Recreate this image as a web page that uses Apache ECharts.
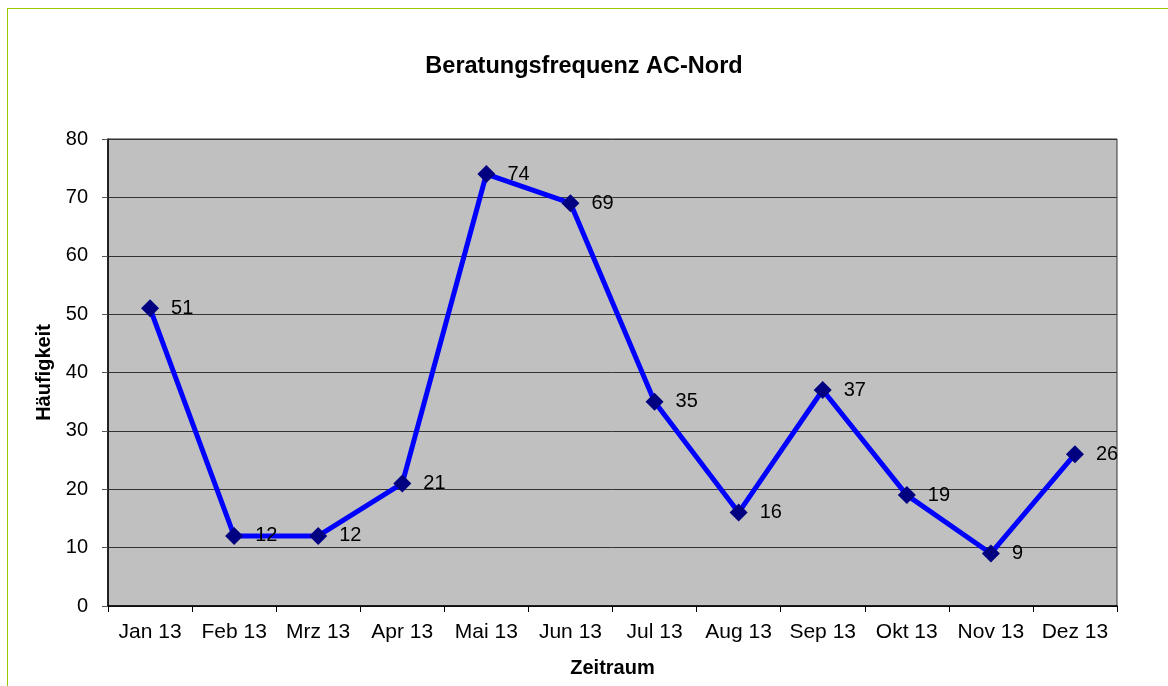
<!DOCTYPE html>
<html>
<head>
<meta charset="utf-8">
<script src="https://cdn.jsdelivr.net/npm/echarts@6/dist/echarts.min.js"></script>
<style>
html,body{margin:0;padding:0;background:#fff;}
#frame{position:absolute;left:7px;top:8px;width:1161px;height:678px;border-left:1px solid #99cc00;border-top:1px solid #99cc00;}
#chart{position:absolute;left:0;top:0;width:1168px;height:686px;}
</style>
</head>
<body>
<div id="frame"></div>
<div id="chart"></div>
<script>
var titleText = 'Beratungsfrequenz AC-Nord';
var categories = ['Jan 13','Feb 13','Mrz 13','Apr 13','Mai 13','Jun 13','Jul 13','Aug 13','Sep 13','Okt 13','Nov 13','Dez 13'];
var values = [51,12,12,21,74,69,35,16,37,19,9,26];
var yAxisName = 'Häufigkeit';
var xAxisName = 'Zeitraum';

var font = 'Liberation Sans, Arial, sans-serif';
var chart = echarts.init(document.getElementById('chart'), null, {renderer:'canvas'});
chart.setOption({
  backgroundColor: 'transparent',
  animation: false,
  title: {
    text: titleText, left: 'center', top: 50,
    textStyle: {fontFamily: font, fontSize: 23.5, fontWeight: 'bold', color: '#000'}
  },
  grid: {
    left: 108, right: 51, top: 139, bottom: 80,
    show: true, backgroundColor: '#c0c0c0', borderColor: '#333', borderWidth: 1
  },
  xAxis: {
    type: 'category', data: categories, boundaryGap: true,
    name: xAxisName, nameLocation: 'middle', nameGap: 52,
    nameTextStyle: {fontFamily: font, fontSize: 20, fontWeight: 'bold', color: '#000'},
    axisLine: {show: true, lineStyle: {color: '#000', width: 1.5}},
    axisTick: {show: true, alignWithLabel: false, length: 6, lineStyle: {color: '#000'}},
    axisLabel: {fontFamily: font, fontSize: 21, color: '#000', margin: 16, interval: 0},
    splitLine: {show: false}
  },
  yAxis: {
    type: 'value', min: 0, max: 80, interval: 10,
    name: yAxisName, nameLocation: 'middle', nameGap: 50,
    nameTextStyle: {fontFamily: font, fontSize: 20, fontWeight: 'bold', color: '#000'},
    axisLine: {show: true, lineStyle: {color: '#000', width: 1.5}},
    axisTick: {show: true, length: 6, lineStyle: {color: '#555'}},
    axisLabel: {fontFamily: font, fontSize: 20, color: '#000', margin: 20},
    splitLine: {show: true, lineStyle: {color: '#333', width: 1}}
  },
  series: [{
    type: 'line', data: values,
    lineStyle: {color: '#0000ff', width: 5},
    symbol: 'diamond', symbolSize: 18,
    itemStyle: {color: '#000080', borderWidth: 0},
    label: {show: true, position: 'right', distance: 12, fontFamily: font, fontSize: 20, color: '#000'},
    z: 5
  }]
});
</script>
</body>
</html>
